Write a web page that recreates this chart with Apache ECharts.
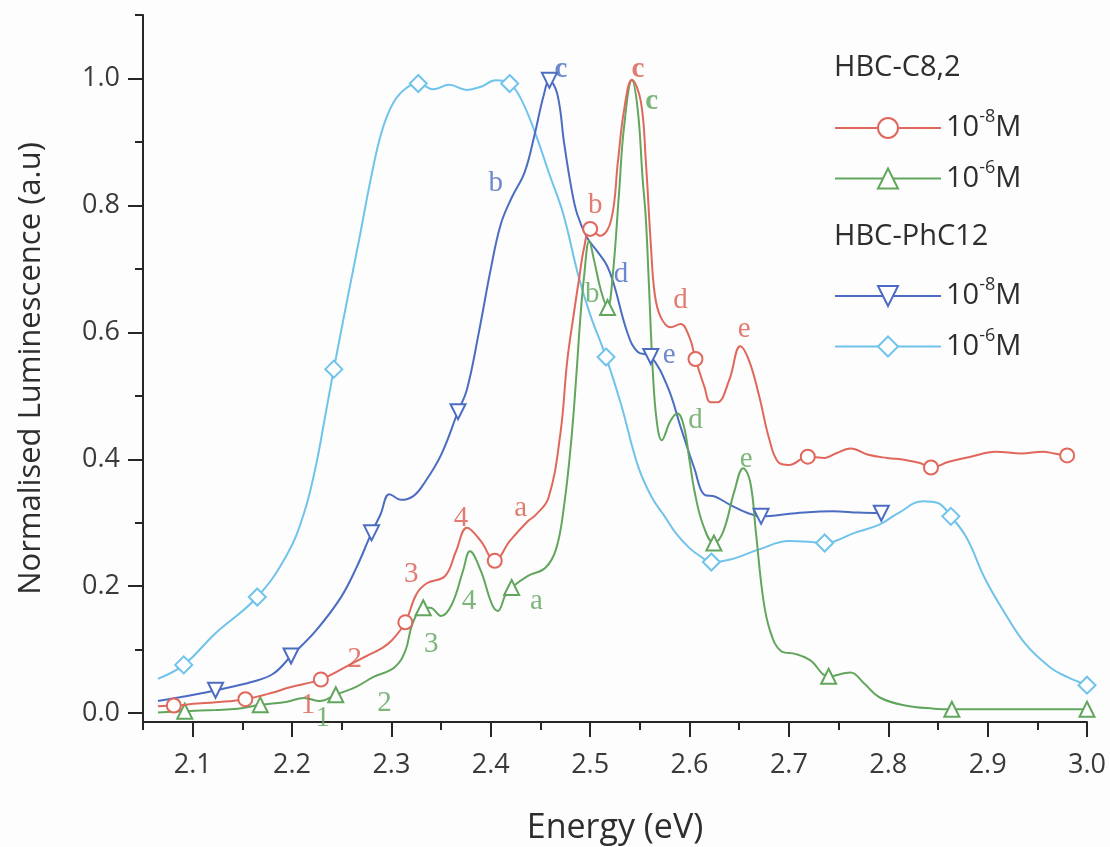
<!DOCTYPE html>
<html>
<head>
<meta charset="utf-8">
<title>Normalised luminescence of HBC-C8,2 and HBC-PhC12</title>
<script src="https://cdn.jsdelivr.net/npm/echarts@6/dist/echarts.min.js"></script>
<style>
  html, body { margin: 0; padding: 0; background: #fdfdfd; }
  #chart { width: 1110px; height: 847px; }
</style>
</head>
<body>
<div id="chart"></div>
<script>
// ---- axis ticks ----
const energyTicks = [2.1, 2.2, 2.3, 2.4, 2.5, 2.6, 2.7, 2.8, 2.9, 3.0];
const energyMinorTicks = [2.05, 2.15, 2.25, 2.35, 2.45, 2.55, 2.65, 2.75, 2.85, 2.95];
const lumTicks = [0, 0.2, 0.4, 0.6, 0.8, 1.0];
const lumMinorTicks = [0.1, 0.3, 0.5, 0.7, 0.9, 1.1];

// ---- spectra: [energy (eV), normalised luminescence] ----
// HBC-C8,2, 10^-8 M
const c8Low = [
  [2.065,0.011],[2.081,0.012],[2.105,0.015],[2.123,0.017],[2.153,0.022],[2.18,0.032],[2.196,0.040],
  [2.212,0.046],[2.229,0.053],[2.253,0.072],[2.275,0.09],[2.29,0.102],[2.30,0.114],[2.314,0.143],
  [2.325,0.187],[2.336,0.205],[2.354,0.216],[2.365,0.255],[2.376,0.292],[2.39,0.271],[2.404,0.240],
  [2.419,0.271],[2.437,0.302],[2.445,0.312],[2.458,0.339],[2.47,0.44],[2.477,0.556],[2.484,0.634],
  [2.489,0.686],[2.494,0.734],[2.50,0.763],[2.51,0.752],[2.521,0.776],[2.528,0.87],[2.534,0.949],
  [2.542,0.998],[2.551,0.964],[2.556,0.87],[2.561,0.74],[2.565,0.66],[2.571,0.624],[2.581,0.608],
  [2.591,0.613],[2.60,0.592],[2.606,0.558],[2.615,0.514],[2.621,0.49],[2.628,0.49],[2.64,0.525],
  [2.651,0.578],[2.66,0.555],[2.67,0.50],[2.68,0.433],[2.689,0.396],[2.70,0.391],[2.719,0.404],
  [2.736,0.402],[2.747,0.409],[2.762,0.417],[2.78,0.407],[2.799,0.402],[2.817,0.399],[2.832,0.394],
  [2.843,0.387],[2.861,0.396],[2.883,0.404],[2.908,0.412],[2.934,0.409],[2.956,0.412],[2.967,0.409],
  [2.98,0.406]
];
const c8LowMarks = [2.081, 2.153, 2.229, 2.314, 2.404, 2.50, 2.606, 2.719, 2.843, 2.98];

// HBC-C8,2, 10^-6 M
const c8High = [
  [2.065,0.001],[2.092,0.003],[2.123,0.005],[2.145,0.007],[2.168,0.013],[2.195,0.018],[2.212,0.024],
  [2.228,0.019],[2.244,0.029],[2.264,0.041],[2.282,0.057],[2.303,0.072],[2.314,0.098],[2.321,0.14],
  [2.332,0.166],[2.339,0.166],[2.35,0.153],[2.361,0.172],[2.372,0.224],[2.379,0.255],[2.39,0.224],
  [2.401,0.172],[2.407,0.161],[2.415,0.187],[2.421,0.198],[2.437,0.216],[2.455,0.229],[2.466,0.26],
  [2.474,0.33],[2.481,0.43],[2.486,0.53],[2.49,0.62],[2.494,0.69],[2.499,0.744],[2.504,0.713],
  [2.511,0.665],[2.5175,0.639],[2.5225,0.686],[2.529,0.818],[2.534,0.922],[2.542,0.997],[2.548,0.949],
  [2.5527,0.844],[2.556,0.78],[2.559,0.68],[2.563,0.54],[2.567,0.46],[2.572,0.43],[2.581,0.461],
  [2.588,0.472],[2.5945,0.451],[2.60,0.398],[2.605,0.35],[2.6135,0.297],[2.6245,0.268],[2.634,0.2865],
  [2.645,0.349],[2.654,0.386],[2.661,0.365],[2.6667,0.2865],[2.674,0.182],[2.681,0.13],[2.692,0.098],
  [2.707,0.093],[2.7216,0.083],[2.74,0.058],[2.762,0.064],[2.775,0.048],[2.791,0.025],[2.817,0.012],
  [2.846,0.007],[2.864,0.006],[2.93,0.006],[3.0,0.006]
];
const c8HighMarks = [2.092, 2.168, 2.244, 2.332, 2.421, 2.5175, 2.6245, 2.74, 2.864, 3.0];

// HBC-PhC12, 10^-8 M
const phLow = [
  [2.065,0.019],[2.087,0.025],[2.105,0.03],[2.123,0.036],[2.159,0.049],[2.181,0.062],[2.199,0.09],
  [2.224,0.13],[2.249,0.182],[2.265,0.23],[2.28,0.284],[2.289,0.313],[2.298,0.345],[2.31,0.336],
  [2.322,0.342],[2.332,0.36],[2.35,0.407],[2.367,0.475],[2.376,0.51],[2.388,0.6],[2.4,0.7],
  [2.41,0.77],[2.421,0.812],[2.434,0.852],[2.444,0.911],[2.453,0.972],[2.459,0.997],[2.467,0.975],
  [2.474,0.896],[2.481,0.828],[2.487,0.786],[2.497,0.749],[2.507,0.728],[2.517,0.705],[2.524,0.675],
  [2.538,0.597],[2.548,0.569],[2.561,0.562],[2.578,0.514],[2.591,0.451],[2.605,0.385],[2.615,0.344],
  [2.626,0.341],[2.641,0.328],[2.659,0.315],[2.672,0.31],[2.707,0.315],[2.744,0.318],[2.77,0.316],
  [2.793,0.315]
];
const phLowMarks = [2.123, 2.199, 2.28, 2.367, 2.459, 2.561, 2.672, 2.793];

// HBC-PhC12, 10^-6 M
const phHigh = [
  [2.065,0.054],[2.091,0.076],[2.123,0.126],[2.165,0.183],[2.195,0.25],[2.212,0.315],[2.224,0.39],
  [2.233,0.465],[2.242,0.542],[2.256,0.655],[2.268,0.75],[2.279,0.84],[2.29,0.915],[2.302,0.962],
  [2.315,0.985],[2.327,0.992],[2.342,0.983],[2.358,0.99],[2.376,0.982],[2.39,0.987],[2.405,0.997],
  [2.419,0.992],[2.43,0.969],[2.444,0.917],[2.459,0.849],[2.473,0.786],[2.488,0.69],[2.50,0.628],
  [2.516,0.561],[2.531,0.487],[2.548,0.39],[2.562,0.34],[2.575,0.31],[2.587,0.282],[2.60,0.26],
  [2.61,0.248],[2.622,0.238],[2.641,0.242],[2.67,0.258],[2.70,0.271],[2.72,0.27],[2.736,0.268],
  [2.766,0.284],[2.791,0.297],[2.81,0.315],[2.835,0.334],[2.85,0.331],[2.863,0.31],[2.879,0.276],
  [2.897,0.213],[2.916,0.161],[2.938,0.109],[2.963,0.072],[2.98,0.057],[3.0,0.044]
];
const phHighMarks = [2.091, 2.165, 2.242, 2.327, 2.419, 2.516, 2.622, 2.736, 2.863, 3.0];

// ---- peak labels: [text, energy, luminescence] ----
const c8LowNotes = [['1',2.216,0.012],['2',2.263,0.084],['3',2.320,0.218],['4',2.370,0.307],
  ['a',2.430,0.323],['b',2.505,0.80],['c',2.548,1.014],['d',2.591,0.650],['e',2.655,0.605]];
const c8HighNotes = [['1',2.231,-0.008],['2',2.293,0.015],['3',2.340,0.108],['4',2.378,0.176],
  ['a',2.446,0.176],['b',2.502,0.66],['c',2.562,0.964],['d',2.606,0.461],['e',2.657,0.399]];
const phLowNotes = [['b',2.405,0.835],['c',2.4705,1.014],['d',2.531,0.692],['e',2.5795,0.563]];

const SANS = '"Open Sans", "Noto Sans", sans-serif';
const SERIF = '"Liberation Serif", "DejaVu Serif", serif';
const INK = '#2e2e2e';

const COLORS = {
  c8Low: '#e0675b',
  c8High: '#62a65d',
  phLow: '#4b6cc1',
  phHigh: '#70c3ea'
};

function spectrum(name, pts, marks, color, symbol, symbolSize, extra) {
  const data = pts.map(p => marks.indexOf(p[0]) >= 0 ? { value: p } : { value: p, symbol: 'none' });
  return Object.assign({
    type: 'line',
    name: name,
    data: data,
    smooth: 0.4,
    symbol: symbol,
    symbolSize: symbolSize,
    showAllSymbol: true,
    lineStyle: { color: color, width: 2 },
    itemStyle: { color: color, borderWidth: 1.6 },
    emphasis: { disabled: true }
  }, extra || {});
}

function notes(list, color) {
  return {
    type: 'scatter',
    silent: true,
    symbolSize: 1,
    itemStyle: { color: 'transparent' },
    z: 5,
    data: list.map(([t, e, v]) => ({
      value: [e, v],
      label: {
        show: true,
        position: 'inside',
        formatter: t,
        color: color,
        fontFamily: SERIF,
        fontSize: 29,
        fontWeight: t === 'c' ? 'bold' : 'normal'
      }
    }))
  };
}

const NAME_C8_LOW = 'HBC-C8,2 10-8M';
const NAME_C8_HIGH = 'HBC-C8,2 10-6M';
const NAME_PH_LOW = 'HBC-PhC12 10-8M';
const NAME_PH_HIGH = 'HBC-PhC12 10-6M';

const legendText = {
  formatter: name => '{n|10}{s|' + (name.indexOf('-8M') >= 0 ? '-8' : '-6') + '}{n|M}',
  textStyle: {
    rich: {
      n: { fontSize: 29, fontFamily: SANS, color: INK, lineHeight: 40 },
      s: { fontSize: 18, fontFamily: SANS, color: INK, lineHeight: 16, verticalAlign: 'top' }
    }
  }
};

const legendBase = Object.assign({
  orient: 'vertical',
  left: 834,
  itemWidth: 106,
  itemHeight: 25,
  itemGap: 16,
  padding: 0,
  selectedMode: false
}, legendText);

const chart = echarts.init(document.getElementById('chart'), null, { renderer: 'canvas' });

chart.setOption({
  backgroundColor: '#fdfdfd',
  animation: false,
  title: [
    { text: 'HBC-C8,2', left: 834, top: 53, padding: 0,
      textStyle: { fontFamily: SANS, fontSize: 29, fontWeight: 'normal', color: INK } },
    { text: 'HBC-PhC12', left: 834, top: 222, padding: 0,
      textStyle: { fontFamily: SANS, fontSize: 29, fontWeight: 'normal', color: INK } }
  ],
  legend: [
    Object.assign({}, legendBase, { top: 108, data: [NAME_C8_LOW, NAME_C8_HIGH] }),
    Object.assign({}, legendBase, { top: 276, data: [NAME_PH_LOW, NAME_PH_HIGH] })
  ],
  grid: { left: 143, right: 23, top: 15, bottom: 125, outerBoundsMode: 'none' },
  xAxis: [
    {
      type: 'value', min: 2.05, max: 3.0,
      name: 'Energy (eV)', nameLocation: 'middle', nameGap: 89,
      nameTextStyle: { fontFamily: SANS, fontSize: 34, color: INK },
      axisLine: { onZero: false, lineStyle: { color: '#262626', width: 2 } },
      axisTick: { customValues: energyTicks, length: 15, lineStyle: { color: '#262626', width: 2 } },
      axisLabel: { customValues: energyTicks, margin: 30, fontFamily: SANS, fontSize: 27, color: '#3a3a3a',
        formatter: v => v.toFixed(1) },
      splitLine: { show: false }
    },
    {
      type: 'value', min: 2.05, max: 3.0, position: 'bottom',
      axisLine: { show: false, onZero: false },
      axisTick: { customValues: energyMinorTicks, length: 8, lineStyle: { color: '#262626', width: 2 } },
      axisLabel: { show: false },
      splitLine: { show: false }
    }
  ],
  yAxis: [
    {
      type: 'value', min: -0.014, max: 1.1,
      name: 'Normalised Luminescence (a.u)', nameLocation: 'middle', nameGap: 96,
      nameTextStyle: { fontFamily: SANS, fontSize: 31, color: INK },
      axisLine: { onZero: false, lineStyle: { color: '#262626', width: 2 } },
      axisTick: { customValues: lumTicks, length: 15, lineStyle: { color: '#262626', width: 2 } },
      axisLabel: { customValues: lumTicks, margin: 23, fontFamily: SANS, fontSize: 27, color: '#3a3a3a',
        formatter: v => v.toFixed(1) },
      splitLine: { show: false }
    },
    {
      type: 'value', min: -0.014, max: 1.1, position: 'left',
      axisLine: { show: false, onZero: false },
      axisTick: { customValues: lumMinorTicks, length: 8, lineStyle: { color: '#262626', width: 2 } },
      axisLabel: { show: false },
      splitLine: { show: false }
    }
  ],
  series: [
    spectrum(NAME_PH_HIGH, phHigh, phHighMarks, COLORS.phHigh, 'emptyDiamond', 17, { z: 2 }),
    spectrum(NAME_PH_LOW, phLow, phLowMarks, COLORS.phLow, 'emptyTriangle', 15, { symbolRotate: 180, z: 3 }),
    spectrum(NAME_C8_HIGH, c8High, c8HighMarks, COLORS.c8High, 'emptyTriangle', 15, { z: 3 }),
    spectrum(NAME_C8_LOW, c8Low, c8LowMarks, COLORS.c8Low, 'emptyCircle', 14, { z: 4 }),
    notes(c8LowNotes, '#dc5a4d'),
    notes(c8HighNotes, '#5da45a'),
    notes(phLowNotes, '#4a6ac0')
  ]
});
</script>
</body>
</html>
